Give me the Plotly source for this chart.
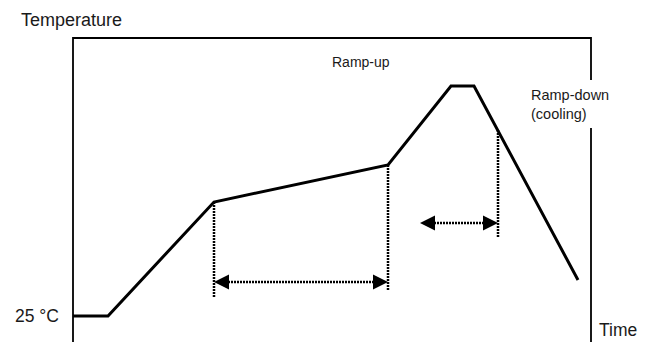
import plotly.graph_objects as go

# Reflow-style temperature profile (schematic): time (s) vs temperature (°C)
profile_time = [0, 35, 141, 315, 378, 401, 505]
profile_temp = [25, 25, 139, 176, 255, 255, 61]

# Dotted vertical markers: (time, top temp, bottom temp)
marker_time = [141, 315, 425]
marker_top = [139, 176, 211]
marker_bottom = [44, 51, 104]

# Double-headed dotted arrows: (start time, end time, temp level)
arrow_start = [141, 347]
arrow_end = [315, 425]
arrow_level = [59, 118]

# Frame extents
frame_left = 0
frame_right = 518
frame_top = 303
frame_bottom = -9
gap_top = 261
gap_bottom = 213

BLACK = "#000000"
FONT = "Liberation Sans, Arial, Helvetica, sans-serif"

fig = go.Figure()

# frame: left + top + right (upper part)
fig.add_trace(go.Scatter(
    x=[frame_left, frame_left, frame_right, frame_right],
    y=[frame_bottom, frame_top, frame_top, gap_top],
    mode="lines", line=dict(color=BLACK, width=1.8), hoverinfo="skip"))
# right (lower part)
fig.add_trace(go.Scatter(
    x=[frame_right, frame_right], y=[gap_bottom, frame_bottom],
    mode="lines", line=dict(color=BLACK, width=1.8), hoverinfo="skip"))

# profile
fig.add_trace(go.Scatter(
    x=profile_time, y=profile_temp, mode="lines",
    line=dict(color=BLACK, width=3), hoverinfo="skip"))

# dotted verticals
for t, top, bot in zip(marker_time, marker_top, marker_bottom):
    fig.add_trace(go.Scatter(
        x=[t, t], y=[top, bot], mode="lines",
        line=dict(color=BLACK, width=2.5, dash="2px,1px"), hoverinfo="skip"))

# dotted arrows
for a, b, lv in zip(arrow_start, arrow_end, arrow_level):
    fig.add_trace(go.Scatter(
        x=[a + 8, b - 8], y=[lv, lv], mode="lines",
        line=dict(color=BLACK, width=2.5, dash="2px,1px"), hoverinfo="skip"))
    for tip, tail in ((a, a + 12), (b, b - 12)):
        fig.add_annotation(
            x=tip, y=lv, ax=tail, ay=lv, xref="x", yref="y", axref="x", ayref="y",
            showarrow=True, arrowhead=2, arrowsize=1.5, arrowwidth=2,
            arrowcolor=BLACK, text="")

def label(text, x, y, size, xanchor="left"):
    fig.add_annotation(x=x, y=y, xref="x", yref="y", text=text, showarrow=False,
                       xanchor=xanchor, yanchor="middle", align="left",
                       font=dict(family=FONT, size=size, color="#1a1a1a"))

label("Temperature", -54, 321, 18)
label("25 °C", -60, 25, 17.5)
label("Time", 524, 11, 17.5)
label("Ramp-up", 288, 279, 14, xanchor="center")
label("Ramp-down<br>(cooling)", 456, 237, 14.5)

# The page body adds an 8px offset, so the axis ranges are shifted by 8px
fig.update_layout(
    width=650, height=342, margin=dict(l=0, r=0, t=0, b=0),
    paper_bgcolor="white", plot_bgcolor="white", showlegend=False,
    xaxis=dict(range=[-65, 585], visible=False, fixedrange=True),
    yaxis=dict(range=[-9, 333], visible=False, fixedrange=True),
)

fig.write_html("out.html")
